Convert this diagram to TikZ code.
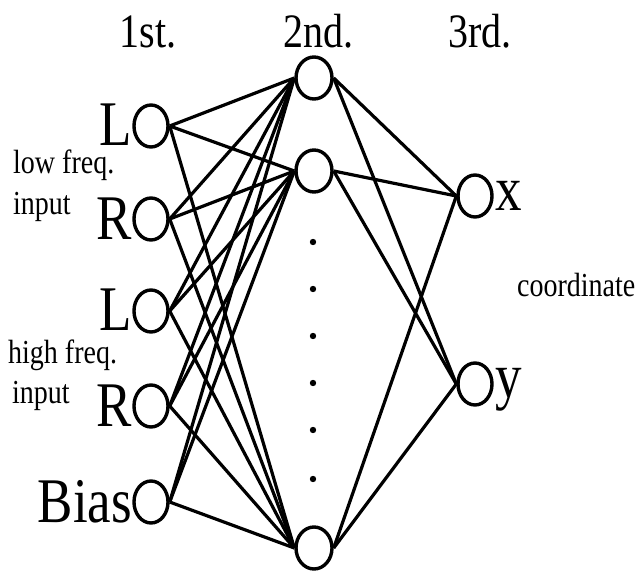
\documentclass[tikz,border=0pt]{standalone}
\usepackage{fontspec}
\usepackage{graphicx}
\setmainfont{Liberation Serif}
\usetikzlibrary{positioning,shapes.geometric}

\newcommand{\tallbox}[1]{\scalebox{1}[1.2]{#1}}

\begin{document}
\begin{tikzpicture}[x=1pt, y=-1pt,
	unit/.style={draw, ellipse, line width=3.4pt, minimum width=34pt, minimum height=42pt, inner sep=0pt},
	bigtext/.style={inner sep=0pt, font=\fontsize{53}{53}\selectfont},
	headtext/.style={inner sep=0pt, anchor=base, font=\fontsize{40}{40}\selectfont},
	smalltext/.style={inner sep=0pt, anchor=base west, font=\fontsize{28}{28}\selectfont},
	link/.style={line width=3.2pt}]
	\useasboundingbox (0,0) rectangle (640,575);
	% layer titles
	\node[headtext] (t1) at (148,48) {\tallbox{1st.}};
	\node[headtext] (t2) at (318,48) {\tallbox{2nd.}};
	\node[headtext] (t3) at (480,48) {\tallbox{3rd.}};
	% 1st layer
	\node[unit] (l1) at (151,126) {};
	\node[unit] (r1) at (151,219) {};
	\node[unit] (l2) at (151,311) {};
	\node[unit] (r2) at (151,406) {};
	\node[unit] (bias) at (151,502) {};
	\node[bigtext, left=0pt of l1, yshift=1pt] (l1txt) {\tallbox{L}};
	\node[bigtext, left=0pt of r1] (r1txt) {\tallbox{R}};
	\node[bigtext, left=0pt of l2, yshift=1pt] (l2txt) {\tallbox{L}};
	\node[bigtext, left=0pt of r2] (r2txt) {\tallbox{R}};
	\node[bigtext, left=0pt of bias] (biastxt) {\tallbox{Bias}};
	\node[smalltext] (lowa) at (13,174) {\tallbox{low freq.}};
	\node[smalltext] (lowb) at (13,214) {\tallbox{input}};
	\node[smalltext] (higha) at (8,363) {\tallbox{high freq.}};
	\node[smalltext] (highb) at (12,403) {\tallbox{input}};
	% 2nd layer
	\node[unit, minimum width=36pt] (h1) at (314,78) {};
	\node[unit, minimum width=36pt] (h2) at (314,171) {};
	\node[unit, minimum width=36pt] (hn) at (314,548) {};
	\foreach \y in {242,289,336,383,430,479}
		\fill (313,\y) circle (3.2);
	% 3rd layer
	\node[unit] (ox) at (475,196) {};
	\node[unit] (oy) at (475,384) {};
	\node[bigtext, right=2pt of ox] (oxtxt) {\tallbox{x}};
	\node[bigtext, right=2pt of oy, yshift=-6pt] (oytxt) {\tallbox{y}};
	\node[smalltext] (coord) at (517,296) {\tallbox{coordinate}};
	% connections
	\foreach \a in {l1,r1,l2,r2,bias}
		\foreach \b in {h1,h2,hn}
			\draw[link] (\a.east) -- (\b.west);
	\foreach \a in {h1,h2,hn}
		\foreach \b in {ox,oy}
			\draw[link] (\a.east) -- (\b.west);
\end{tikzpicture}
\end{document}
